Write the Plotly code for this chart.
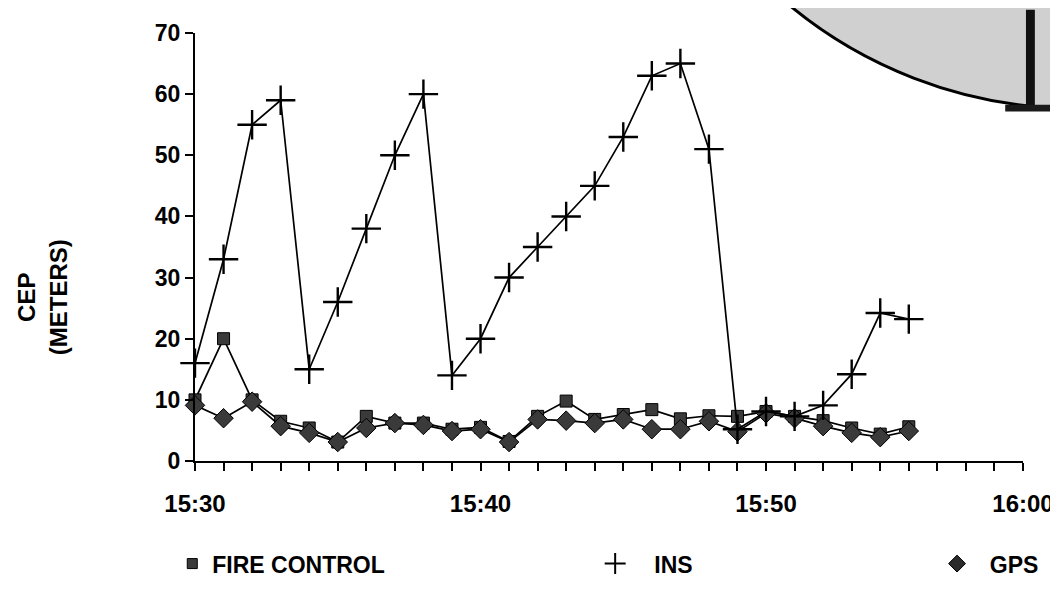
'''
    CEP (meters) over time for the fire control, INS and GPS solutions.
'''

import plotly.graph_objects as go

# sample index along the time axis (one per minute tick)
samples = [0, 1, 2, 3, 4, 5, 6, 7, 8, 9, 10, 11, 12,
           13, 14, 15, 16, 17, 18, 19, 20, 21, 22, 23, 24, 25]

fire_control = [10, 20, 10, 6.5, 5.4, 3.1, 7.3, 6.2, 6.2, 5.2, 5.5, 3.2, 7.3,
                9.8, 6.8, 7.6, 8.4, 6.9, 7.4, 7.3, 8.1, 7.3, 6.6, 5.4, 4.4, 5.6]

ins = [16, 33, 55, 59, 15, 26, 38, 50, 60, 14, 20, 30, 35,
       40, 45, 53, 63, 65, 51, 5.2, 8.1, 7.3, 9.1, 14.2, 24.2, 23.2]

gps = [9.1, 7.0, 9.7, 5.7, 4.6, 3.1, 5.4, 6.2, 5.9, 4.9, 5.2, 3.1, 6.8,
       6.6, 6.2, 6.8, 5.2, 5.2, 6.5, 4.8, 7.8, 7.0, 5.7, 4.6, 3.9, 4.9]

x_tick_pos = [0, 10, 20, 29]
x_tick_labels = ['15:30', '15:40', '15:50', '16:00']

FONT = 'Liberation Sans, Arial, Helvetica, sans-serif'
NB = '\u00a0'

# plot area in pixels, used only to place the decorations
L, R, T, B = 187, 1025, 19, 461


def px(x):
    return (x - L) / (R - L)


def py(y):
    return (B - y) / (B - T)


def get_plot():
    fig = go.Figure()

    fig.add_trace(go.Scatter(
        x=samples, y=fire_control, mode='lines+markers', name='FIRE CONTROL',
        line=dict(color='black', width=1.7),
        marker=dict(symbol='square', size=12, color='#3a3a3a',
                    line=dict(color='black', width=1)),
        cliponaxis=False, showlegend=False))
    fig.add_trace(go.Scatter(
        x=samples, y=gps, mode='lines+markers', name='GPS',
        line=dict(color='black', width=1.7),
        marker=dict(symbol='diamond', size=15, color='#3a3a3a',
                    line=dict(color='black', width=1)),
        cliponaxis=False, showlegend=False))
    fig.add_trace(go.Scatter(
        x=samples, y=ins, mode='lines+markers', name='INS',
        line=dict(color='black', width=1.7),
        marker=dict(symbol='cross-thin', size=21,
                    line=dict(color='black', width=2.4)),
        cliponaxis=False, showlegend=False))

    # legend-only entries (markers without the line)
    fig.add_trace(go.Scatter(
        x=[None], y=[None], mode='markers', name='FIRE CONTROL', legend='legend',
        marker=dict(symbol='square', size=10, color='#3a3a3a',
                    line=dict(color='black', width=1))))
    fig.add_trace(go.Scatter(
        x=[None], y=[None], mode='markers', name=NB * 3 + 'INS', legend='legend2',
        marker=dict(symbol='cross-thin', size=15,
                    line=dict(color='black', width=2))))
    fig.add_trace(go.Scatter(
        x=[None], y=[None], mode='markers', name=NB * 2 + 'GPS', legend='legend3',
        marker=dict(symbol='diamond', size=13, color='#2a2a2a',
                    line=dict(color='black', width=1))))
    return fig


def update_axes(fig):
    fig.update_xaxes(
        range=[0, 29], tickvals=x_tick_pos, ticktext=x_tick_labels,
        showline=True, linecolor='black', linewidth=2,
        ticks='outside', ticklen=8, tickwidth=1.5, tickcolor='black',
        minor=dict(dtick=1, tick0=0, ticks='outside', ticklen=8,
                   tickwidth=1.5, tickcolor='black'),
        ticklabelstandoff=12, tickfont=dict(size=24),
        showgrid=False, zeroline=False)
    fig.update_yaxes(
        range=[0, 70], dtick=10,
        showline=True, linecolor='black', linewidth=2,
        ticks='outside', ticklen=8, tickwidth=1.5, tickcolor='black',
        tickfont=dict(size=23), showgrid=False, zeroline=False)
    fig.add_annotation(
        text='CEP<br>(METERS)', textangle=-90, showarrow=False,
        xref='paper', yref='paper', x=px(33), y=py(292),
        xanchor='center', yanchor='middle', font=dict(size=24))
    return fig


def add_decoration(fig):
    # gray disc cut by the top-right corner of the page
    fig.add_shape(type='circle', xref='paper', yref='paper',
                  x0=px(630), x1=px(1530), y0=py(-800), y1=py(97),
                  fillcolor='#d0d0d0', opacity=1,
                  line=dict(color='black', width=3), layer='above')
    fig.add_shape(type='rect', xref='paper', yref='paper',
                  x0=px(1028), x1=px(1037), y0=py(-5), y1=py(95),
                  fillcolor='#111111', opacity=1, line=dict(width=0),
                  layer='above')
    fig.add_shape(type='rect', xref='paper', yref='paper',
                  x0=px(1007), x1=px(1060), y0=py(93), y1=py(100),
                  fillcolor='#1a1a1a', opacity=1, line=dict(width=0),
                  layer='above')
    return fig


def update_template(fig):
    leg = dict(orientation='h', yanchor='middle', xanchor='left',
               y=py(567), bgcolor='rgba(0,0,0,0)', font=dict(size=23))
    fig.update_layout(
        width=1058, height=589,
        margin=dict(l=L, r=1058 - R, t=T, b=589 - B),
        template='simple_white',
        plot_bgcolor='white', paper_bgcolor='white',
        font=dict(family=FONT, color='black', weight='bold'),
        legend=dict(leg, x=px(164)),
        legend2=dict(leg, x=px(592)),
        legend3=dict(leg, x=px(938)),
    )
    return fig


fig = get_plot()
fig = update_axes(fig)
fig = add_decoration(fig)
fig = update_template(fig)
fig.write_html('out.html')
